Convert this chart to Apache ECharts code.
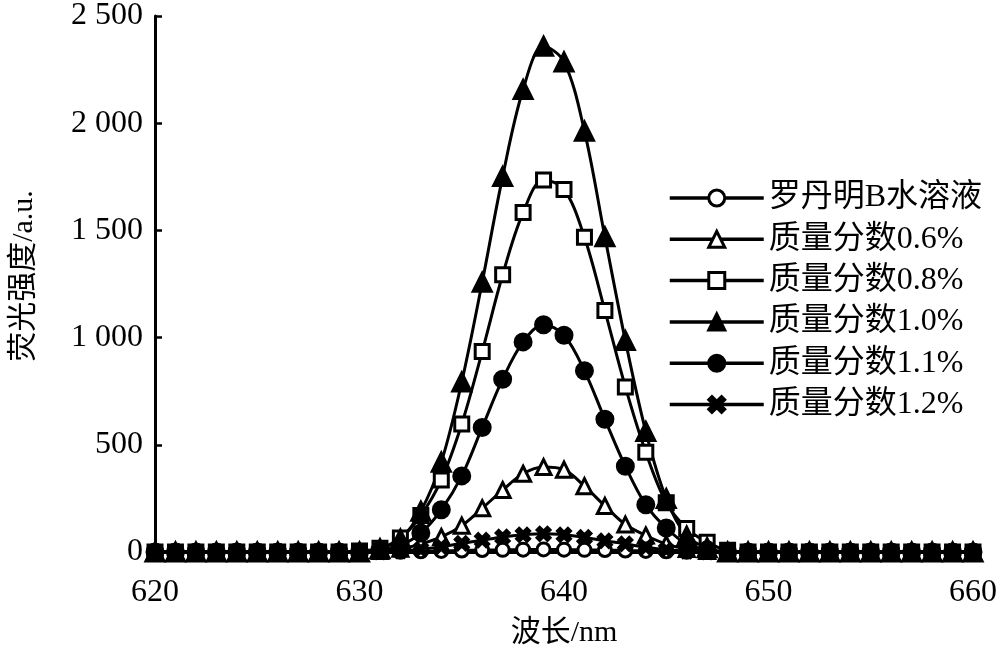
<!DOCTYPE html>
<html>
<head>
<meta charset="utf-8">
<script src="https://cdn.jsdelivr.net/npm/echarts@6/dist/echarts.min.js"></script>
<style>html,body{margin:0;padding:0;background:#fff}#c{width:1000px;height:653px}</style>
</head>
<body>
<div id="c"></div>
<script>
// wavelength (nm) 620..660
var wavelengths = [620,621,622,623,624,625,626,627,628,629,630,631,632,633,634,635,636,637,638,639,640,641,642,643,644,645,646,647,648,649,650,651,652,653,654,655,656,657,658,659,660];
var seriesNames = ['罗丹明B水溶液','质量分数0.6%','质量分数0.8%','质量分数1.0%','质量分数1.1%','质量分数1.2%'];
// values per wavelength
var rhodamineB = [0,0,0,0,0,0,0,0,0,0,0,0,1,3,5,7,9,10,11,12,11,10,9,7,5,3,1,0,0,0,0,0,0,0,0,0,0,0,0,0,0];
var frac06 = [0,0,0,0,0,0,0,0,0,0,0,5,15,37,70,123,204,289,365,396,384,307,215,128,77,37,14,5,0,0,0,0,0,0,0,0,0,0,0,0,0];
var frac08 = [0,0,0,0,0,0,0,0,0,0,5,18,65,170,336,597,935,1293,1583,1735,1691,1468,1126,770,465,230,110,45,8,0,0,0,0,0,0,0,0,0,0,0,0];
var frac10 = [0,0,0,0,0,0,0,0,0,0,0,15,60,190,419,793,1258,1751,2157,2359,2286,1963,1470,986,562,249,74,20,0,0,0,0,0,0,0,0,0,0,0,0,0];
var frac11 = [0,0,0,0,0,0,0,0,0,0,0,8,30,89,197,355,581,806,980,1060,1011,845,619,400,220,112,37,10,0,0,0,0,0,0,0,0,0,0,0,0,0];
var frac12 = [0,0,0,0,0,0,0,0,0,0,0,0,5,12,25,40,55,70,80,85,80,68,52,38,22,10,4,0,0,0,0,0,0,0,0,0,0,0,0,0,0];
var yTickLabels = {0:'0',500:'500',1000:'1 000',1500:'1 500',2000:'2 000',2500:'2 500'};
var xTickLabels = {620:'620',630:'630',640:'640',650:'650',660:'660'};

var allValues = [rhodamineB, frac06, frac08, frac10, frac11, frac12];
var crossPath = 'path://M2,0 L5,3 L8,0 L10,2 L7,5 L10,8 L8,10 L5,7 L2,10 L0,8 L3,5 L0,2 Z';
var symbols = ['circle','triangle','rect','triangle','circle',crossPath];
var fills = ['#fff','#fff','#fff','#000','#000','#000'];
var sizes = [13,15,14,18,16,13];

var FONT = '"Liberation Serif","Noto Sans CJK SC",serif';

var series = allValues.map(function(vals, i){
  return {
    name: seriesNames[i],
    type: 'line',
    smooth: 0.35,
    data: wavelengths.map(function(w, k){ return [w, vals[k]]; }),
    symbol: symbols[i],
    symbolSize: sizes[i],
    showAllSymbol: true,
    lineStyle: {color:'#000', width: 3},
    itemStyle: {color: fills[i], borderColor:'#000', borderWidth: 3},
    emphasis: {disabled: true},
    animation: false
  };
});

var chart = echarts.init(document.getElementById('c'), null, {renderer:'canvas'});
chart.setOption({
  backgroundColor: '#fff',
  animation: false,
  grid: {left: 155, right: 22, top: 14, bottom: 97, containLabel: false},
  legend: {
    orient: 'vertical',
    left: 663,
    top: 177,
    itemWidth: 94,
    itemHeight: 20,
    itemGap: 9.3,
    data: seriesNames,
    lineStyle: {width: 3.5, color: '#000'},
    itemStyle: {borderWidth: 3, borderColor: '#000'},
    textStyle: {fontFamily: FONT, fontSize: 32, color:'#000', lineHeight: 32, padding:[0,0,0,0]},
    inactiveColor: '#000'
  },
  xAxis: {
    type: 'value',
    min: 620, max: 660, interval: 10,
    name: '波长/nm',
    nameLocation: 'middle',
    nameGap: 66,
    nameTextStyle: {fontFamily: FONT, fontSize: 30, color:'#000'},
    axisLine: {show: true, lineStyle: {color:'#000', width: 3}},
    axisTick: {show: false},
    splitLine: {show: false},
    axisLabel: {fontFamily: FONT, fontSize: 32, color:'#000', margin: 25,
      formatter: function(v){ return xTickLabels[v] !== undefined ? xTickLabels[v] : ''; }}
  },
  yAxis: {
    type: 'value',
    min: 0, max: 2500, interval: 500,
    name: '荧光强度/a.u.',
    nameLocation: 'middle',
    nameRotate: 90,
    nameGap: 116,
    nameTextStyle: {fontFamily: FONT, fontSize: 30, color:'#000', padding: [0,0,0,16]},
    axisLine: {show: true, lineStyle: {color:'#000', width: 3}},
    axisTick: {show: true, inside: true, length: 7, lineStyle: {color:'#000', width: 2.5}},
    splitLine: {show: false},
    axisLabel: {fontFamily: FONT, fontSize: 32, color:'#000', margin: 12,
      formatter: function(v){ return yTickLabels[v] !== undefined ? yTickLabels[v] : ''; }}
  },
  series: series
});
</script>
</body>
</html>
